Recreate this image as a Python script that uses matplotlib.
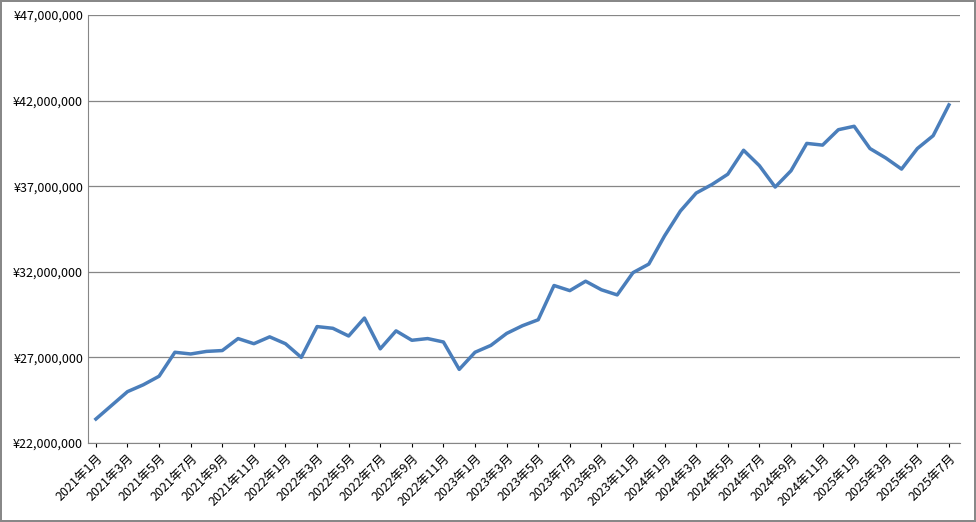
import matplotlib.pyplot as plt
from matplotlib.ticker import FuncFormatter

plt.rcParams['font.family'] = ['Noto Sans CJK JP', 'DejaVu Sans']

# 2021年1月〜2025年7月 の月次データ
months = [f"{y}年{m}月" for y in range(2021, 2026) for m in range(1, 13)][:55]
values = [
    23.4, 24.2, 25.0, 25.4, 25.9, 27.3, 27.2, 27.35, 27.4, 28.1, 27.8, 28.2,
    27.8, 27.0, 28.8, 28.7, 28.25, 29.3, 27.5, 28.55, 28.0, 28.1, 27.9, 26.3,
    27.3, 27.7, 28.4, 28.85, 29.2, 31.2, 30.9, 31.45, 30.95, 30.65, 31.95, 32.45,
    34.1, 35.55, 36.6, 37.1, 37.7, 39.1, 38.2, 36.95, 37.9, 39.5, 39.4, 40.3,
    40.5, 39.2, 38.65, 38.0, 39.2, 39.95, 41.75,
]
values = [v * 1_000_000 for v in values]

fig = plt.figure(figsize=(9.76, 5.22), dpi=100)
fig.patch.set_edgecolor('#888888')
fig.patch.set_linewidth(1.5)
ax = fig.add_axes([88 / 976, 1 - 443 / 522, 872 / 976, 428 / 522])

x = list(range(len(values)))
ax.plot(x, values, color='#4A7EBB', linewidth=2.5)

ax.set_ylim(22_000_000, 47_000_000)
ax.set_yticks(range(22_000_000, 47_000_001, 5_000_000))
ax.yaxis.set_major_formatter(FuncFormatter(lambda v, p: f"¥{int(v):,}"))
ax.set_xlim(-0.5, len(values) - 0.3)
ax.set_xticks(x[::2])
ax.set_xticklabels(months[::2], rotation=45, ha='right', rotation_mode='anchor', fontsize=9)
ax.tick_params(axis='y', labelsize=9, length=0)
ax.tick_params(axis='x', length=3)
ax.grid(axis='y', color='#868686', linewidth=0.9)
ax.set_axisbelow(True)
for s in ['top', 'right']:
    ax.spines[s].set_visible(False)
ax.spines['left'].set_color('#868686')
ax.spines['bottom'].set_color('#868686')

fig.savefig('out.png', dpi=100, edgecolor=fig.get_edgecolor())
